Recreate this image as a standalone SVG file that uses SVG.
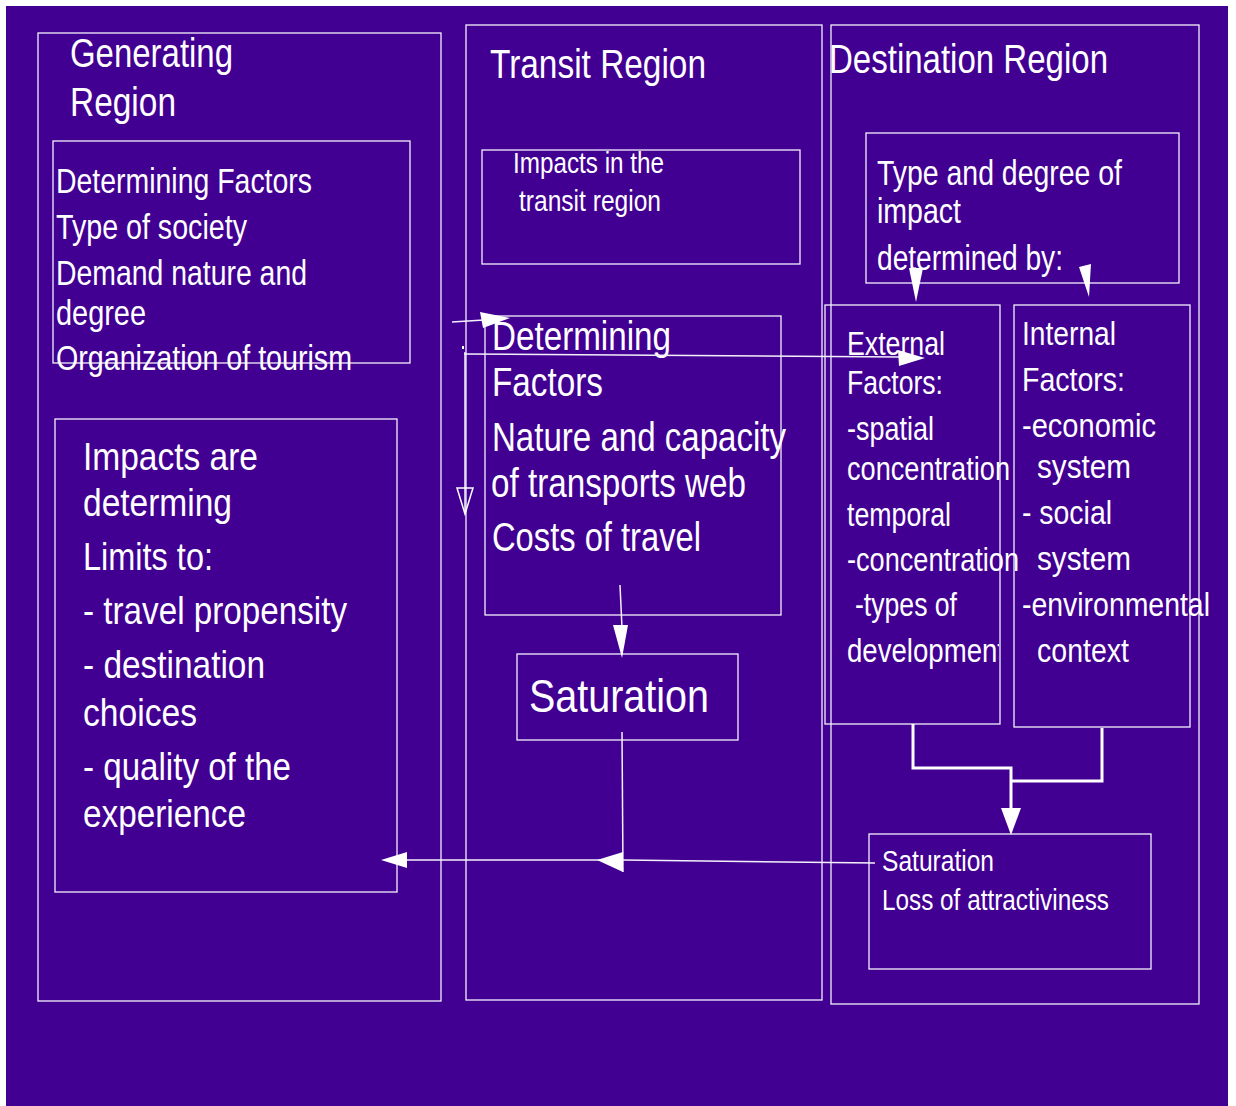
<svg xmlns="http://www.w3.org/2000/svg" width="1236" height="1106" viewBox="0 0 1236 1106">
<style>
.box{fill:none;stroke:#f4f0fa;stroke-width:1.3}
.t{font-family:"Liberation Sans",Arial,sans-serif;fill:#fff}
.ln{fill:none;stroke:#f4f0fa;stroke-width:1.5}
.thick{fill:none;stroke:#fff;stroke-width:3}
.ah{fill:#fff;stroke:none}
</style>
<defs>
<clipPath id="extClip"><rect x="826" y="620" width="173" height="103"/></clipPath>
</defs>
<rect x="0" y="0" width="1236" height="1106" fill="#fff"/>
<rect x="6" y="6" width="1222" height="1100" fill="#420093"/>

<g id="generating-region">
<rect class="box" x="38" y="33" width="403" height="968"/>
<text class="t" font-size="40"><tspan x="70" y="67" textLength="163" lengthAdjust="spacingAndGlyphs">Generating</tspan><tspan x="70" y="116" textLength="106" lengthAdjust="spacingAndGlyphs">Region</tspan></text>
</g>
<g id="generating-factors">
<rect class="box" x="53" y="141" width="357" height="222"/>
<text class="t" font-size="35">
<tspan x="56" y="193" textLength="256" lengthAdjust="spacingAndGlyphs">Determining Factors</tspan>
<tspan x="56" y="239" textLength="191" lengthAdjust="spacingAndGlyphs">Type of society</tspan>
<tspan x="56" y="285" textLength="251" lengthAdjust="spacingAndGlyphs">Demand nature and</tspan>
<tspan x="56" y="325" textLength="90" lengthAdjust="spacingAndGlyphs">degree</tspan>
<tspan x="56" y="370" textLength="296" lengthAdjust="spacingAndGlyphs">Organization of tourism</tspan>
</text>
</g>
<g id="generating-impacts">
<rect class="box" x="55" y="419" width="342" height="473"/>
<text class="t" font-size="39">
<tspan x="83" y="470" textLength="175" lengthAdjust="spacingAndGlyphs">Impacts are</tspan>
<tspan x="83" y="516" textLength="149" lengthAdjust="spacingAndGlyphs">determing</tspan>
<tspan x="83" y="570" textLength="130" lengthAdjust="spacingAndGlyphs">Limits to:</tspan>
<tspan x="83" y="624" textLength="264" lengthAdjust="spacingAndGlyphs">- travel propensity</tspan>
<tspan x="83" y="678" textLength="182" lengthAdjust="spacingAndGlyphs">- destination</tspan>
<tspan x="83" y="726" textLength="114" lengthAdjust="spacingAndGlyphs">choices</tspan>
<tspan x="83" y="780" textLength="208" lengthAdjust="spacingAndGlyphs">- quality of the</tspan>
<tspan x="83" y="827" textLength="163" lengthAdjust="spacingAndGlyphs">experience</tspan>
</text>
</g>

<g id="transit-region">
<rect class="box" x="466" y="25" width="356" height="975"/>
<text class="t" font-size="40" x="490" y="78" textLength="216" lengthAdjust="spacingAndGlyphs">Transit Region</text>
</g>
<g id="transit-impacts">
<rect class="box" x="482" y="150" width="318" height="114"/>
<text class="t" font-size="29">
<tspan x="513" y="173" textLength="151" lengthAdjust="spacingAndGlyphs">Impacts in the</tspan>
<tspan x="519" y="211" textLength="142" lengthAdjust="spacingAndGlyphs">transit region</tspan>
</text>
</g>
<g id="transit-factors">
<rect class="box" x="485" y="316" width="296" height="299"/>
<text class="t" font-size="41">
<tspan x="492" y="350" textLength="179" lengthAdjust="spacingAndGlyphs">Determining</tspan>
<tspan x="492" y="396" textLength="111" lengthAdjust="spacingAndGlyphs">Factors</tspan>
<tspan x="492" y="451" textLength="294" lengthAdjust="spacingAndGlyphs">Nature and capacity</tspan>
<tspan x="491" y="497" textLength="255" lengthAdjust="spacingAndGlyphs">of transports web</tspan>
<tspan x="492" y="551" textLength="209" lengthAdjust="spacingAndGlyphs">Costs of travel</tspan>
</text>
</g>
<g id="transit-saturation">
<rect class="box" x="517" y="654" width="221" height="86"/>
<text class="t" font-size="47" x="529" y="712" textLength="180" lengthAdjust="spacingAndGlyphs">Saturation</text>
</g>

<g id="destination-region">
<rect class="box" x="831" y="25" width="368" height="979"/>
<text class="t" font-size="40" x="829" y="73" textLength="279" lengthAdjust="spacingAndGlyphs">Destination Region</text>
</g>
<g id="destination-impact">
<rect class="box" x="866" y="133" width="313" height="150"/>
<text class="t" font-size="35">
<tspan x="877" y="185" textLength="245" lengthAdjust="spacingAndGlyphs">Type and degree of</tspan>
<tspan x="877" y="223" textLength="84" lengthAdjust="spacingAndGlyphs">impact</tspan>
<tspan x="877" y="270" textLength="186" lengthAdjust="spacingAndGlyphs">determined by:</tspan>
</text>
</g>
<g id="external-factors">
<rect class="box" x="825" y="305" width="175" height="419"/>
<text class="t" font-size="33">
<tspan x="847" y="355" textLength="98" lengthAdjust="spacingAndGlyphs">External</tspan>
<tspan x="847" y="394" textLength="96" lengthAdjust="spacingAndGlyphs">Factors:</tspan>
<tspan x="847" y="440" textLength="87" lengthAdjust="spacingAndGlyphs">-spatial</tspan>
<tspan x="847" y="480" textLength="163" lengthAdjust="spacingAndGlyphs">concentration</tspan>
<tspan x="847" y="526" textLength="104" lengthAdjust="spacingAndGlyphs">temporal</tspan>
<tspan x="847" y="571" textLength="172" lengthAdjust="spacingAndGlyphs">-concentration</tspan>
<tspan x="855" y="616" textLength="102" lengthAdjust="spacingAndGlyphs">-types of</tspan>
</text>
<text class="t" font-size="33" clip-path="url(#extClip)" x="847" y="662" textLength="158" lengthAdjust="spacingAndGlyphs">development</text>
</g>
<g id="internal-factors">
<rect class="box" x="1014" y="305" width="176" height="422"/>
<text class="t" font-size="33">
<tspan x="1022" y="345" textLength="94" lengthAdjust="spacingAndGlyphs">Internal</tspan>
<tspan x="1022" y="391" textLength="103" lengthAdjust="spacingAndGlyphs">Factors:</tspan>
<tspan x="1022" y="437" textLength="134" lengthAdjust="spacingAndGlyphs">-economic</tspan>
<tspan x="1037" y="478" textLength="94" lengthAdjust="spacingAndGlyphs">system</tspan>
<tspan x="1022" y="524" textLength="90" lengthAdjust="spacingAndGlyphs">- social</tspan>
<tspan x="1037" y="570" textLength="94" lengthAdjust="spacingAndGlyphs">system</tspan>
<tspan x="1022" y="616" textLength="188" lengthAdjust="spacingAndGlyphs">-environmental</tspan>
<tspan x="1037" y="662" textLength="92" lengthAdjust="spacingAndGlyphs">context</tspan>
</text>
</g>
<g id="destination-saturation">
<rect class="box" x="869" y="834" width="282" height="135"/>
<text class="t" font-size="29">
<tspan x="882" y="871" textLength="112" lengthAdjust="spacingAndGlyphs">Saturation</tspan>
<tspan x="882" y="910" textLength="227" lengthAdjust="spacingAndGlyphs">Loss of attractiviness</tspan>
</text>
</g>

<g id="connectors">
<line class="ln" x1="452" y1="322" x2="484" y2="320"/>
<polygon class="ah" points="480,312 510,318 483,328"/>
<line class="ln" x1="464" y1="354" x2="900" y2="357"/>
<polygon class="ah" points="898,350 925,358 899,366"/>
<rect x="462" y="346" width="2" height="3" fill="#fff"/>
<line class="ln" x1="465" y1="352" x2="465" y2="512"/>
<polygon points="457,488 473,488 465,514" fill="none" stroke="#fff" stroke-width="1.5"/>
<line class="ln" x1="620" y1="585" x2="622" y2="628"/>
<polygon class="ah" points="613,625 628,625 622,658"/>
<line class="ln" x1="913" y1="270" x2="915" y2="285"/>
<polygon class="ah" points="909,268 923,268 916,302"/>
<line class="ln" x1="1085" y1="266" x2="1088" y2="280"/>
<polygon class="ah" points="1079,267 1091,264 1089,297"/>
<polyline class="thick" points="913,724 913,768 1011,768 1011,810"/>
<polyline class="thick" points="1102,728 1102,781 1011,781"/>
<polygon class="ah" points="1001,808 1021,808 1011,835"/>
<line class="ln" x1="622" y1="732" x2="623" y2="872"/>
<polyline class="ln" points="875,863 623,860 405,860"/>
<polygon class="ah" points="597,860 623,852 623,872"/>
<polygon class="ah" points="381,860 407,852 407,868"/>
</g>
</svg>
